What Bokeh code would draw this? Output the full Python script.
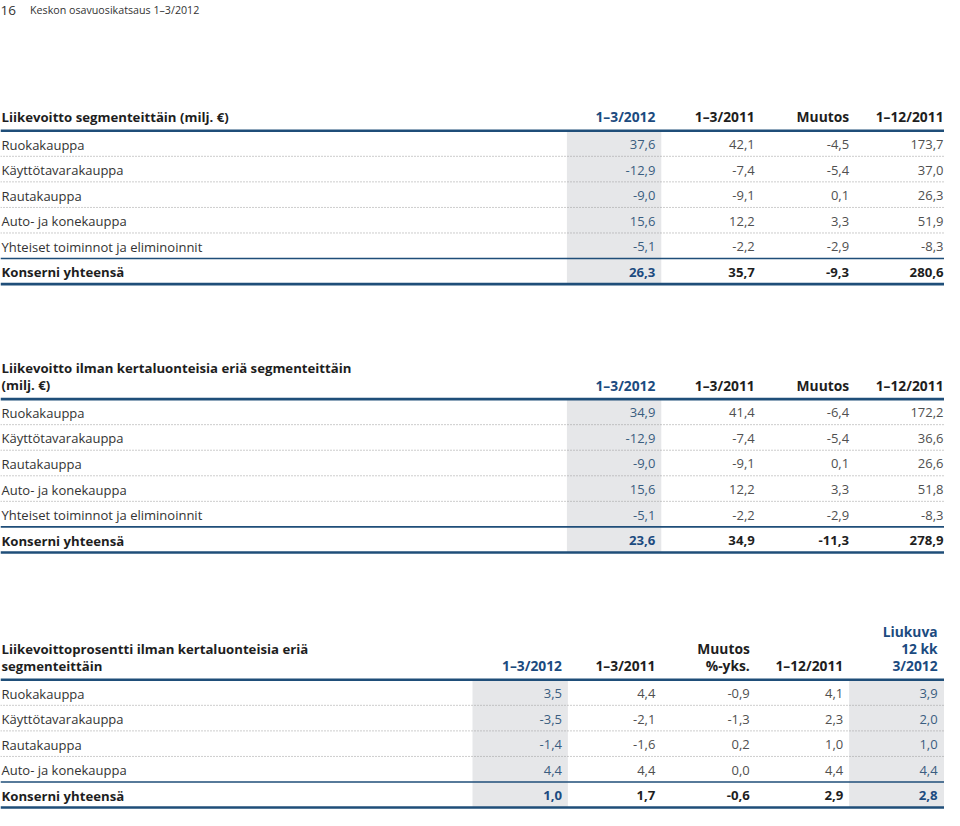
from bokeh.plotting import figure
from bokeh.models import ColumnDataSource, Range1d
from bokeh.core.properties import value
from bokeh.embed import file_html
from bokeh.resources import INLINE

# ---------------- data ----------------
page_number = "16"
page_title = "Keskon osavuosikatsaus 1–3/2012"

# Table 1
t1_title = ["Liikevoitto segmenteittäin (milj. €)"]
t1_headers = [["1–3/2012"], ["1–3/2011"], ["Muutos"], ["1–12/2011"]]
t1_segments = ["Ruokakauppa", "Käyttötavarakauppa", "Rautakauppa",
               "Auto- ja konekauppa", "Yhteiset toiminnot ja eliminoinnit"]
t1_q1_2012 = [37.6, -12.9, -9.0, 15.6, -5.1]
t1_q1_2011 = [42.1, -7.4, -9.1, 12.2, -2.2]
t1_change = [-4.5, -5.4, 0.1, 3.3, -2.9]
t1_fy_2011 = [173.7, 37.0, 26.3, 51.9, -8.3]
t1_totals = [26.3, 35.7, -9.3, 280.6]

# Table 2
t2_title = ["Liikevoitto ilman kertaluonteisia eriä segmenteittäin", "(milj. €)"]
t2_headers = [["1–3/2012"], ["1–3/2011"], ["Muutos"], ["1–12/2011"]]
t2_segments = ["Ruokakauppa", "Käyttötavarakauppa", "Rautakauppa",
               "Auto- ja konekauppa", "Yhteiset toiminnot ja eliminoinnit"]
t2_q1_2012 = [34.9, -12.9, -9.0, 15.6, -5.1]
t2_q1_2011 = [41.4, -7.4, -9.1, 12.2, -2.2]
t2_change = [-6.4, -5.4, 0.1, 3.3, -2.9]
t2_fy_2011 = [172.2, 36.6, 26.6, 51.8, -8.3]
t2_totals = [23.6, 34.9, -11.3, 278.9]

# Table 3
t3_title = ["Liikevoittoprosentti ilman kertaluonteisia eriä", "segmenteittäin"]
t3_headers = [["1–3/2012"], ["1–3/2011"], ["Muutos", "%-yks."], ["1–12/2011"],
              ["Liukuva", "12 kk", "3/2012"]]
t3_segments = ["Ruokakauppa", "Käyttötavarakauppa", "Rautakauppa", "Auto- ja konekauppa"]
t3_q1_2012 = [3.5, -3.5, -1.4, 4.4]
t3_q1_2011 = [4.4, -2.1, -1.6, 4.4]
t3_change = [-0.9, -1.3, 0.2, 0.0]
t3_fy_2011 = [4.1, 2.3, 1.0, 4.4]
t3_rolling = [3.9, 2.0, 1.0, 4.4]
t3_totals = [1.0, 1.7, -0.6, 2.9, 2.8]

total_label = "Konserni yhteensä"

# ---------------- style ----------------
FONT = value("Open Sans")
BODY = "13px"
BOLD = "13.2px"
HEAD = "13.8px"
BLUE = "#1c4b80"
LINE_BLUE = "#1f4e79"
SHADE = "#e6e7e9"
LABEL_C = "#333333"
VALUE_C = "#505050"
SHADED_VALUE_C = "#3a5d80"
TITLE_C = "#1e1e1e"
ROW_H = 26
HDR_LH = 17.5


def fmt(v):
    return f"{v:.1f}".replace(".", ",")


p = figure(width=944, height=810, x_range=Range1d(0, 960), y_range=Range1d(824, 0),
           output_backend="svg", toolbar_location=None, min_border=0)
p.axis.visible = False
p.grid.visible = False
p.outline_line_color = None
p.background_fill_color = "white"
p.border_fill_color = "white"


def add_text(xs, ys, texts, colors, align, bold, size=None):
    if size is None:
        size = BOLD if bold else BODY
    src = ColumnDataSource(dict(x=xs, y=ys, t=texts, c=colors))
    p.text(x="x", y="y", text="t", text_color="c", source=src,
           text_font=FONT, text_font_size=size, text_align=align,
           text_baseline="middle", text_font_style="bold" if bold else "normal")


def draw_table(top, title, headers, header_blue, col_right, labels, cols, totals,
               shaded, shade_x):
    n = len(labels)
    bottom = top + ROW_H * (n + 1)
    # shading
    p.quad(left=[s[0] for s in shade_x], right=[s[1] for s in shade_x],
           top=[top] * len(shade_x), bottom=[bottom] * len(shade_x),
           fill_color=SHADE, line_color=None)
    # dotted separators
    seps = [top + ROW_H * (i + 1) for i in range(n - 1)]
    p.segment(x0=[0] * len(seps), x1=[960] * len(seps), y0=seps, y1=seps,
              line_color="#9a9a9a", line_width=1, line_dash="1 2")
    # solid lines
    y_tot = top + ROW_H * n
    p.segment(x0=[0], x1=[960], y0=[y_tot], y1=[y_tot], line_color=LINE_BLUE, line_width=1.6)
    p.segment(x0=[0, 0], x1=[960, 960], y0=[top, bottom], y1=[top, bottom],
              line_color=LINE_BLUE, line_width=2.6)
    # title
    last_y = top - 14
    ty = [last_y - HDR_LH * (len(title) - 1 - i) for i in range(len(title))]
    add_text([1] * len(title), ty, title, [TITLE_C] * len(title), "left", True)
    # headers
    hx, hy, ht, hc = [], [], [], []
    for j, lines in enumerate(headers):
        for i, s in enumerate(lines):
            hx.append(col_right[j])
            hy.append(last_y - HDR_LH * (len(lines) - 1 - i))
            ht.append(s)
            hc.append(BLUE if header_blue[j] else TITLE_C)
    add_text(hx, hy, ht, hc, "right", True, HEAD)
    # row labels
    ry = [top + ROW_H * (i + 0.5) + 1 for i in range(n)]
    add_text([1] * n, ry, labels, [LABEL_C] * n, "left", False)
    add_text([1], [y_tot + ROW_H / 2 + 1], [total_label], [TITLE_C], "left", True)
    # values
    vx, vy, vt, vc = [], [], [], []
    for j, col in enumerate(cols):
        for i, v in enumerate(col):
            vx.append(col_right[j]); vy.append(ry[i]); vt.append(fmt(v))
            vc.append(SHADED_VALUE_C if shaded[j] else VALUE_C)
    add_text(vx, vy, vt, vc, "right", False)
    tx = [col_right[j] for j in range(len(totals))]
    add_text(tx, [y_tot + ROW_H / 2 + 1] * len(totals), [fmt(v) for v in totals],
             [BLUE if shaded[j] else TITLE_C for j in range(len(totals))], "right", True)


# page header
add_text([0], [10], [page_number], ["#333333"], "left", False, "13.5px")
add_text([30], [10], [page_title], ["#333333"], "left", False, "10.7px")

draw_table(132.5, t1_title, t1_headers, [True, False, False, False],
           [666, 767, 863, 959], t1_segments,
           [t1_q1_2012, t1_q1_2011, t1_change, t1_fy_2011], t1_totals,
           [True, False, False, False], [(576, 672)])

draw_table(405.5, t2_title, t2_headers, [True, False, False, False],
           [666, 767, 863, 959], t2_segments,
           [t2_q1_2012, t2_q1_2011, t2_change, t2_fy_2011], t2_totals,
           [True, False, False, False], [(576, 672)])

draw_table(691, t3_title, t3_headers, [True, False, False, False, True],
           [571, 666, 762, 857, 953], t3_segments,
           [t3_q1_2012, t3_q1_2011, t3_change, t3_fy_2011, t3_rolling], t3_totals,
           [True, False, False, False, True], [(480, 577), (863, 960)])

open("out.html", "w").write(file_html(p, INLINE))
